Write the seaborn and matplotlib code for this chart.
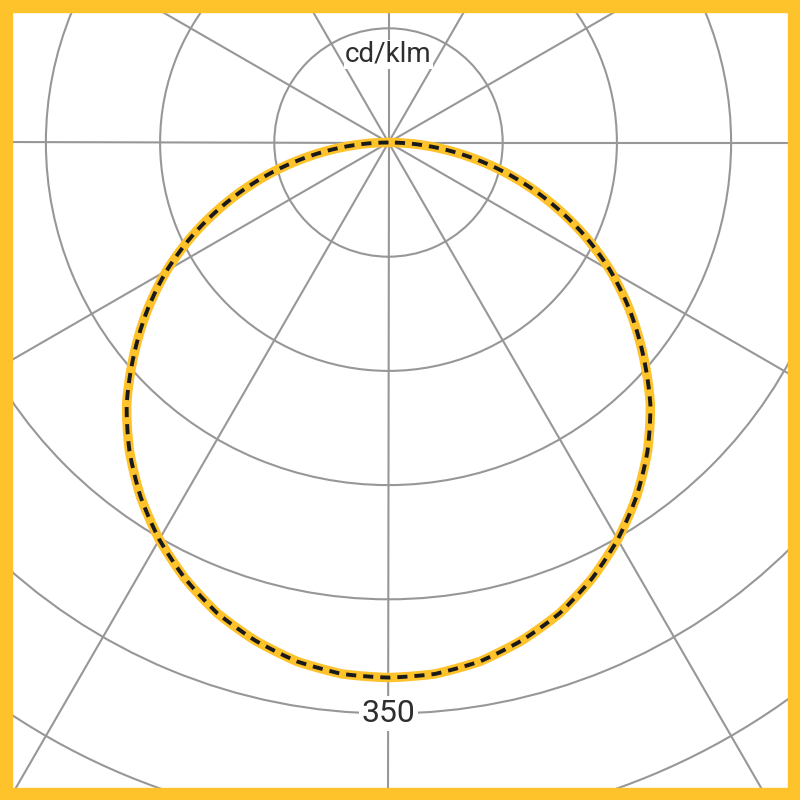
import numpy as np
import pandas as pd
import matplotlib
matplotlib.use("Agg")
import matplotlib.pyplot as plt
import seaborn as sns
from matplotlib.patches import Rectangle

# luminous intensity (cd/klm) read at gamma angles, C0/C180 and C90/C270 planes
gamma_deg = [0, 5, 10, 15, 20, 25, 30, 35, 40, 45, 50, 55, 60, 65, 70, 75, 80, 85, 90]
c0_c180 = [328, 327, 323, 316, 307, 295, 281, 265, 247, 227, 204, 181, 157, 131, 104, 77, 50, 24, 0]
c90_c270 = [328, 327, 323, 316, 307, 295, 281, 265, 247, 227, 204, 181, 157, 131, 104, 77, 50, 24, 0]
ring_values = [70, 140, 210, 280, 350, 420, 490, 560, 630, 700]
label_ring = 350
unit_label = "cd/klm"

YELLOW = "#FEC22B"
GRID = "#979797"
TEXT = "#2e2e2e"


def both_sides(values):
    ang = [-g for g in gamma_deg[::-1]] + gamma_deg[1:]
    val = values[::-1] + values[1:]
    return np.deg2rad(ang), val


sns.set_style("white")
plt.rcParams["font.family"] = ["Roboto", "DejaVu Sans"]

W = H = 800
fig = plt.figure(figsize=(8, 8), dpi=100)

# centre of the diagram in pixels and pixels per cd/klm
cx, cy = 388.5, 142.5
ppu = 114.2 / 70
rmax = ring_values[-1]
rad_px = rmax * ppu
ax = fig.add_axes([
    (cx - rad_px) / W,
    (H - cy - rad_px) / H,
    2 * rad_px / W,
    2 * rad_px / H,
], projection="polar")
ax.set_theta_zero_location("S")
ax.set_theta_direction(1)
ax.set_ylim(0, rmax)
ax.set_rticks(ring_values)
ax.set_yticklabels([])
ax.set_thetagrids(np.arange(0, 360, 30), labels=[])
ax.grid(True, color=GRID, linewidth=1.5)
ax.spines["polar"].set_visible(False)
ax.set_axisbelow(True)
ax.tick_params(length=0)

th, r0 = both_sides(c0_c180)
df0 = pd.DataFrame({"theta": th, "I": r0})
th, r90 = both_sides(c90_c270)
df90 = pd.DataFrame({"theta": th, "I": r90})

sns.lineplot(data=df0, x="theta", y="I", ax=ax, color=YELLOW,
             linewidth=6.8, sort=False, zorder=3)
sns.lineplot(data=df90, x="theta", y="I", ax=ax, color="#1a1a1a",
             linewidth=2.8, sort=False, zorder=4)
ax.lines[-1].set_dashes((2.6, 1.8))
for ln in ax.lines[-2:]:
    ln.get_path()._interpolation_steps = 40
ax.set_xlabel("")
ax.set_ylabel("")

ax.text(0, label_ring, str(label_ring), ha="center", va="center",
        fontsize=23, color=TEXT, zorder=6,
        bbox=dict(facecolor="white", edgecolor="none", pad=2))
ax.text(np.pi, 54, unit_label, ha="center", va="center",
        fontsize=20, color=TEXT, zorder=6,
        bbox=dict(facecolor="white", edgecolor="none", pad=1))

# yellow frame
b = 12 / W
for rect in [(0, 0, 1, b), (0, 1 - b, 1, b), (0, 0, b, 1), (1 - b, 0, b, 1)]:
    fig.patches.append(Rectangle(rect[:2], rect[2], rect[3],
                                 transform=fig.transFigure, color=YELLOW,
                                 zorder=10))

fig.savefig("out.png", dpi=100)
